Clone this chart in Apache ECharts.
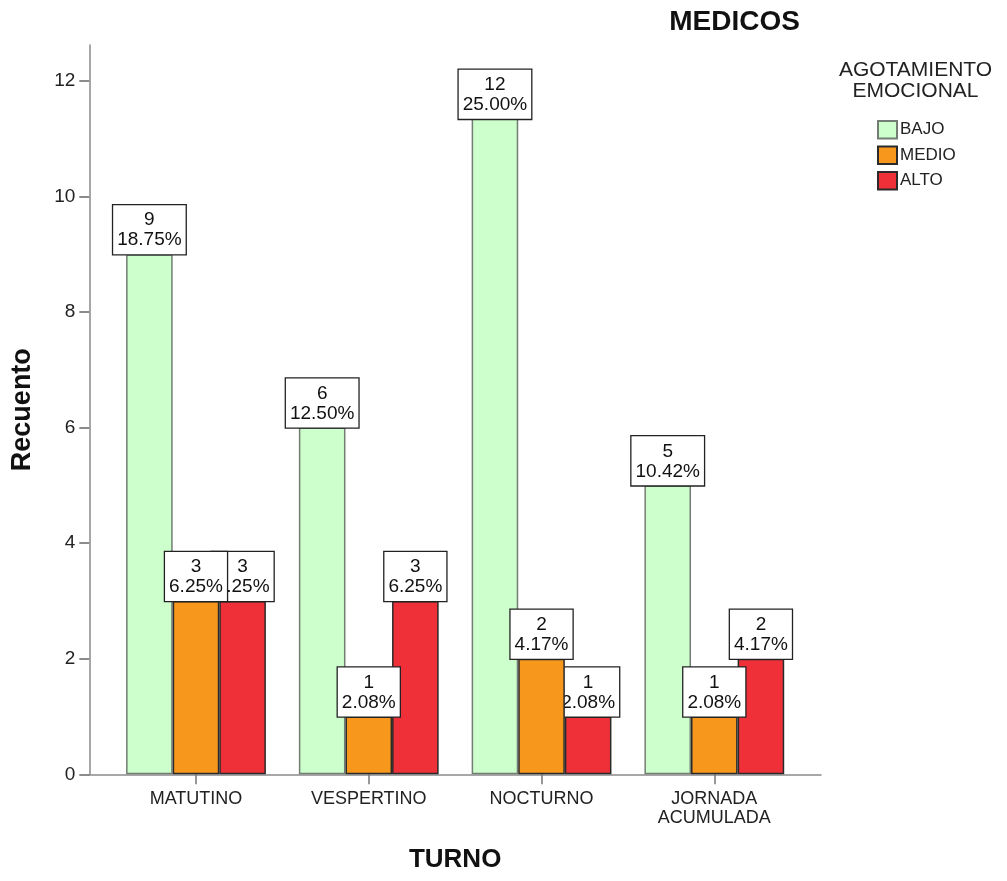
<!DOCTYPE html>
<html>
<head>
<meta charset="utf-8">
<script src="https://cdn.jsdelivr.net/npm/echarts@6/dist/echarts.min.js"></script>
<style>
  html, body { margin: 0; padding: 0; background: #fff; }
  #chart { width: 1007px; height: 881px; }
</style>
</head>
<body>
<div id="chart"></div>
<script>
// Burnout (emotional exhaustion) counts per shift, physicians
const categories = ['MATUTINO', 'VESPERTINO', 'NOCTURNO', 'JORNADA\nACUMULADA'];
const levels = ['BAJO', 'MEDIO', 'ALTO'];
const bajo = [9, 6, 12, 5];
const medio = [3, 1, 2, 1];
const alto = [3, 3, 1, 2];
const yTicks = [0, 2, 4, 6, 8, 10, 12];

const FONT = '"Liberation Sans", Arial, sans-serif';
const Y_MAX = 12.62;
const total = [...bajo, ...medio, ...alto].reduce((a, b) => a + b, 0);

const colors = {
  BAJO: { fill: '#ccffcc', border: '#737d73' },
  MEDIO: { fill: '#f7981d', border: '#2a2a2a' },
  ALTO: { fill: '#ef3038', border: '#2a2a2a' }
};

// labels that would rise past the top of the plot are pushed down onto the bar
function buildData(values) {
  return values.map(v => {
    if (v + 0.88 > Y_MAX) {
      return { value: v, label: { offset: [0, 38] } };
    }
    return v;
  });
}

function barSeries(name, values, z) {
  return {
    name: name,
    type: 'bar',
    xAxisIndex: 0,
    yAxisIndex: 0,
    data: buildData(values),
    barWidth: 46.6,
    barGap: '0%',
    z: z,
    itemStyle: {
      color: colors[name].fill,
      borderColor: colors[name].border,
      borderWidth: 1.5
    },
    label: {
      show: true,
      position: 'top',
      distance: 0,
      formatter: p => p.value + '\n' + (p.value / total * 100).toFixed(2) + '%',
      fontFamily: FONT,
      fontSize: 19,
      lineHeight: 20,
      color: '#111',
      align: 'center',
      backgroundColor: '#fff',
      borderColor: '#222',
      borderWidth: 1.3,
      padding: [5, 4, 4, 4]
    },
    emphasis: { disabled: true }
  };
}

const chart = echarts.init(document.getElementById('chart'), null, { renderer: 'canvas' });

chart.setOption({
  animation: false,
  backgroundColor: '#fff',
  title: [
    {
      text: 'MEDICOS',
      left: 734.5,
      top: 8,
      padding: 0,
      textAlign: 'center',
      textStyle: { fontFamily: FONT, fontSize: 28, fontWeight: 'bold', color: '#111' }
    },
    {
      text: 'AGOTAMIENTO\nEMOCIONAL',
      left: 915.5,
      top: 59,
      padding: 0,
      textAlign: 'center',
      textStyle: { fontFamily: FONT, fontSize: 21, lineHeight: 21.5, fontWeight: 'normal', color: '#222' }
    }
  ],
  legend: {
    orient: 'vertical',
    left: 877,
    top: 120,
    padding: 0,
    icon: 'rect',
    itemWidth: 19,
    itemHeight: 17.5,
    itemGap: 6,
    selectedMode: false,
    data: levels,
    textStyle: { fontFamily: FONT, fontSize: 17, lineHeight: 17.5, color: '#222', padding: [0, 0, 0, -2] }
  },
  grid: [
    { left: 109.6, right: 206.3, top: 45, bottom: 106.7 },
    { left: 89.3, right: 186, top: 45, bottom: 106.7 }
  ],
  xAxis: [
    {
      type: 'category',
      gridIndex: 0,
      data: categories,
      axisLine: { show: false },
      axisTick: { show: true, alignWithLabel: true, length: 10, lineStyle: { color: '#777', width: 1.5 } },
      axisLabel: { margin: 15, fontFamily: FONT, fontSize: 18, lineHeight: 19, color: '#222' },
      splitLine: { show: false }
    },
    {
      type: 'value',
      gridIndex: 1,
      min: 0,
      max: 1,
      axisLine: { show: true, lineStyle: { color: '#8a8a8a', width: 1.5 } },
      axisTick: { show: false },
      axisLabel: { show: false },
      splitLine: { show: false },
      name: 'TURNO',
      nameLocation: 'middle',
      nameGap: 73,
      nameTextStyle: { fontFamily: FONT, fontSize: 26, fontWeight: 'bold', color: '#111' }
    }
  ],
  yAxis: [
    {
      type: 'value',
      gridIndex: 0,
      min: 0,
      max: Y_MAX,
      show: false
    },
    {
      type: 'value',
      gridIndex: 1,
      min: 0,
      max: Y_MAX,
      axisLine: { show: true, lineStyle: { color: '#8a8a8a', width: 1.5 } },
      axisTick: { show: true, length: 10, customValues: yTicks, lineStyle: { color: '#666', width: 1.5 } },
      axisLabel: { margin: 14, customValues: yTicks, fontFamily: FONT, fontSize: 19, color: '#222' },
      splitLine: { show: false },
      name: 'Recuento',
      nameLocation: 'middle',
      nameGap: 53,
      nameTextStyle: { fontFamily: FONT, fontSize: 27, fontWeight: 'bold', color: '#111' }
    }
  ],
  series: [
    barSeries('BAJO', bajo, 2),
    barSeries('MEDIO', medio, 4),
    barSeries('ALTO', alto, 3)
  ]
});
</script>
</body>
</html>
